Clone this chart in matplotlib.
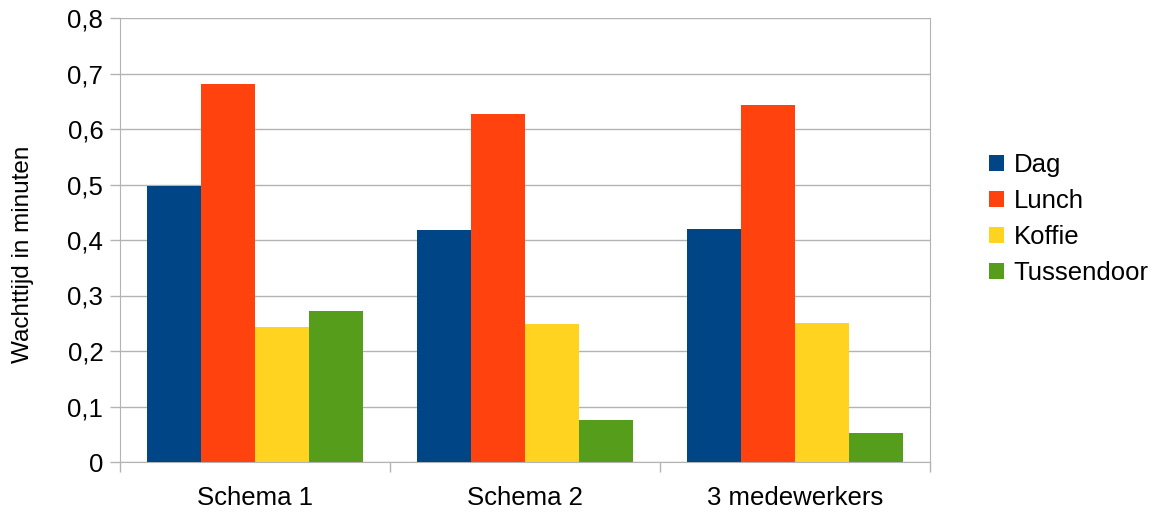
import matplotlib.pyplot as plt
import numpy as np
from matplotlib.patches import Patch
from matplotlib.ticker import FuncFormatter

plt.rcParams['font.family'] = ['Liberation Sans', 'DejaVu Sans']
plt.rcParams['font.size'] = 18.5

# Gemiddelde wachttijden per scenario
scenarios = ['Schema 1', 'Schema 2', '3 medewerkers']
series = ['Dag', 'Lunch', 'Koffie', 'Tussendoor']
dag = [0.497, 0.418, 0.420]
lunch = [0.681, 0.627, 0.644]
koffie = [0.243, 0.249, 0.250]
tussendoor = [0.272, 0.076, 0.052]
kleuren = ['#004586', '#ff420e', '#ffd320', '#579d1c']

W, H = 1157, 513
fig = plt.figure(figsize=(W / 100, H / 100), dpi=100)
ax = fig.add_axes([120 / W, (H - 462) / H, 810 / W, 444 / H])

x = np.arange(len(scenarios))
breedte = 0.2
for i, (waarden, kleur) in enumerate(zip([dag, lunch, koffie, tussendoor], kleuren)):
    ax.bar(x + (i - 1.5) * breedte, waarden, breedte, color=kleur, zorder=3)

ax.set_xlim(-0.5, len(scenarios) - 0.5)
ax.set_ylim(0, 0.8)
ax.set_yticks(np.arange(0, 0.81, 0.1))
ax.yaxis.set_major_formatter(FuncFormatter(lambda v, p: f'{v:.1f}'.replace('.', ',').replace('0,0', '0')))
ax.grid(axis='y', color='#b3b3b3', linewidth=1, zorder=0)

# categorie-labels midden, tickstreepjes op de grenzen
ax.set_xticks(x)
ax.set_xticklabels(scenarios)
ax.tick_params(axis='x', which='major', length=0, pad=17.5)
ax.set_xticks(np.arange(-0.5, len(scenarios)), minor=True)
ax.tick_params(axis='x', which='minor', length=7, color='#b3b3b3', width=1)
ax.tick_params(axis='y', length=7, color='#b3b3b3', width=1, pad=5)

for s in ['left', 'right', 'top', 'bottom']:
    ax.spines[s].set_color('#b3b3b3')
ax.spines['top'].set_visible(False)

ax.set_ylabel('Wachttijd in minuten', fontsize=17.5)
ax.yaxis.set_label_coords(-0.106, 0.468)

handles = [Patch(facecolor=k, edgecolor='none') for k in kleuren]
fig.legend(handles, series, loc='center left', bbox_to_anchor=(989 / W, (H - 219) / H),
           frameon=False, handlelength=0.6, handleheight=0.6, handletextpad=0.35,
           labelspacing=0.46, borderaxespad=0, borderpad=0)

fig.savefig('out.png', dpi=100)
